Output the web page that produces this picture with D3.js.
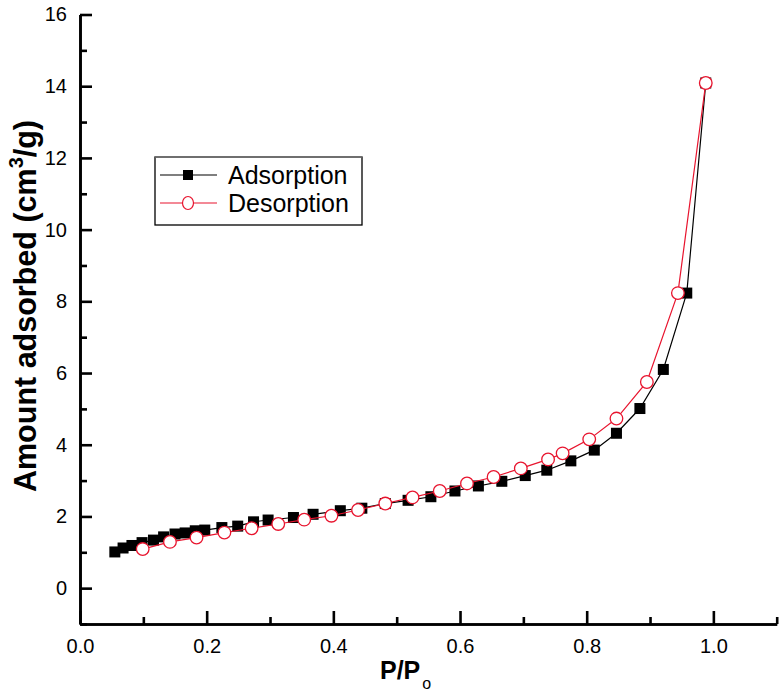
<!DOCTYPE html>
<html>
<head>
<meta charset="utf-8">
<script src="https://cdn.jsdelivr.net/npm/d3@7"></script>
<style>
  body { margin: 0; background: #fff; }
  svg { display: block; font-family: "Liberation Sans", Arial, sans-serif; }
  .axis path, .axis line { stroke: #000; stroke-width: 2.6; }
  .axis text { font-size: 20px; fill: #000; }
</style>
</head>
<body>
<svg id="chart" width="781" height="694"></svg>
<script>
// adsorption branch (P/Po, cm3/g)
var adsX = [0.055, 0.068, 0.082, 0.098, 0.116, 0.132, 0.150, 0.166, 0.182, 0.197,
            0.224, 0.249, 0.274, 0.297, 0.337, 0.368, 0.411, 0.445, 0.482, 0.518,
            0.554, 0.592, 0.629, 0.666, 0.703, 0.737, 0.775, 0.812, 0.847, 0.884,
            0.921, 0.958, 0.988];
var adsY = [1.01, 1.12, 1.19, 1.27, 1.34, 1.43, 1.51, 1.54, 1.60, 1.62,
            1.69, 1.73, 1.85, 1.90, 1.97, 2.06, 2.16, 2.23, 2.36, 2.45,
            2.55, 2.71, 2.85, 2.98, 3.14, 3.29, 3.55, 3.85, 4.32, 5.01,
            6.10, 8.23, 14.09];

// desorption branch
var desX = [0.099, 0.142, 0.184, 0.228, 0.271, 0.313, 0.354, 0.397, 0.439, 0.482,
            0.525, 0.568, 0.611, 0.653, 0.696, 0.739, 0.762, 0.804, 0.847, 0.895,
            0.944, 0.988];
var desY = [1.09, 1.29, 1.41, 1.55, 1.67, 1.79, 1.91, 2.02, 2.18, 2.36,
            2.53, 2.71, 2.92, 3.10, 3.34, 3.59, 3.76, 4.15, 4.73, 5.75,
            8.23, 14.09];

var xMajor = [0, 0.2, 0.4, 0.6, 0.8, 1.0];
var xMinor = [0.1, 0.3, 0.5, 0.7, 0.9, 1.1];
var yMajor = [0, 2, 4, 6, 8, 10, 12, 14, 16];
var yMinor = [-1, 1, 3, 5, 7, 9, 11, 13, 15];
var seriesNames = ["Adsorption", "Desorption"];

var svg = d3.select("#chart");

var x = d3.scaleLinear().domain([0, 1.1]).range([80, 776.7]);
var y = d3.scaleLinear().domain([-1, 16]).range([624, 14.5]);

// axes - ticks point inwards
svg.append("g").attr("class", "axis")
  .attr("transform", "translate(0,624)")
  .call(d3.axisBottom(x).tickValues(xMinor).tickSize(-7).tickSizeOuter(0).tickFormat(""));
svg.append("g").attr("class", "axis")
  .attr("transform", "translate(0,624)")
  .call(d3.axisBottom(x).tickValues(xMajor).tickSize(-13).tickSizeOuter(0)
        .tickPadding(15).tickFormat(d3.format(".1f")));

svg.append("g").attr("class", "axis")
  .attr("transform", "translate(80,0)")
  .call(d3.axisLeft(y).tickValues(yMinor).tickSize(-7).tickSizeOuter(0).tickFormat(""));
svg.append("g").attr("class", "axis")
  .attr("transform", "translate(80,0)")
  .call(d3.axisLeft(y).tickValues(yMajor).tickSize(-12).tickSizeOuter(0)
        .tickPadding(13).tickFormat(d3.format("d")));

svg.selectAll(".axis text").attr("font-family", "Liberation Sans, Arial, sans-serif");

// axis titles
var yt = svg.append("text")
  .attr("transform", "translate(36,306) rotate(-90)")
  .attr("text-anchor", "middle")
  .attr("font-size", 30.5).attr("font-weight", "bold");
yt.append("tspan").text("Amount adsorbed (cm");
yt.append("tspan").attr("font-size", 20).attr("dy", -13).text("3");
yt.append("tspan").attr("dy", 13).text("/g)");

var xt = svg.append("text")
  .attr("x", 380).attr("y", 679)
  .attr("font-size", 25).attr("font-weight", "bold");
xt.append("tspan").text("P/P");
xt.append("tspan").attr("font-size", 16).attr("font-weight", "normal").attr("dx", 2).attr("dy", 10).text("o");

// series
var ads = adsX.map(function(d, i) { return [d, adsY[i]]; });
var des = desX.map(function(d, i) { return [d, desY[i]]; });
var line = d3.line().x(function(d) { return x(d[0]); }).y(function(d) { return y(d[1]); });
var red = "#e8142e";

svg.append("path").datum(ads).attr("d", line)
  .attr("fill", "none").attr("stroke", "#000").attr("stroke-width", 1.2);
svg.selectAll(".sq").data(ads).enter().append("rect")
  .attr("x", function(d) { return x(d[0]) - 5.5; })
  .attr("y", function(d) { return y(d[1]) - 5.5; })
  .attr("width", 11).attr("height", 11).attr("fill", "#000");

svg.append("path").datum(des).attr("d", line)
  .attr("fill", "none").attr("stroke", red).attr("stroke-width", 1.2);
svg.selectAll(".ci").data(des).enter().append("circle")
  .attr("cx", function(d) { return x(d[0]); })
  .attr("cy", function(d) { return y(d[1]); })
  .attr("r", 6.3).attr("fill", "#fff").attr("stroke", red).attr("stroke-width", 1.3);

// legend
var lg = svg.append("g");
lg.append("rect").attr("x", 155).attr("y", 157).attr("width", 207).attr("height", 68)
  .attr("fill", "#fff").attr("stroke", "#000").attr("stroke-width", 1.3);
lg.append("line").attr("x1", 155).attr("x2", 362).attr("y1", 157).attr("y2", 157)
  .attr("stroke", "#777").attr("stroke-width", 1.6);
var rowY = [175, 203];
var colors = ["#000", red];
seriesNames.forEach(function(name, i) {
  lg.append("line").attr("x1", 160).attr("x2", 217).attr("y1", rowY[i]).attr("y2", rowY[i])
    .attr("stroke", colors[i]).attr("stroke-width", 1.2);
  if (i === 0) {
    lg.append("rect").attr("x", 183).attr("y", rowY[i] - 5).attr("width", 10).attr("height", 10)
      .attr("fill", "#000");
  } else {
    lg.append("ellipse").attr("cx", 188).attr("cy", rowY[i]).attr("rx", 5.5).attr("ry", 6.5)
      .attr("fill", "#fff").attr("stroke", red).attr("stroke-width", 1.2);
  }
  lg.append("text").attr("x", 228).attr("y", rowY[i]).attr("dy", "0.36em")
    .attr("font-size", 25).text(name);
});
</script>
</body>
</html>
